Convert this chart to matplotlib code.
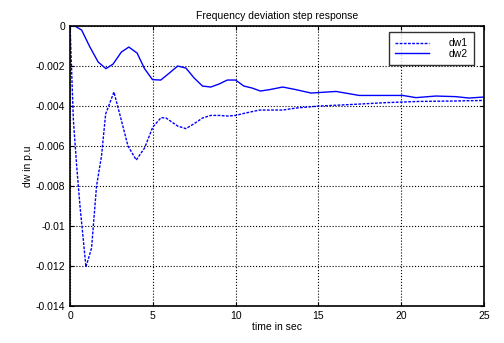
import matplotlib
matplotlib.use("Agg")
import matplotlib.pyplot as plt

t1 = [0, 0.2, 0.4, 0.6, 0.96, 1.3, 1.6, 1.9, 2.15, 2.65, 3.0, 3.5, 4.0, 4.5, 5.0, 5.5,
      5.8, 6.5, 7.0, 7.5, 8.0, 8.5, 9.0, 9.55, 10.0, 10.6, 11.45, 12.05, 12.85, 13.65,
      15.06, 17.07, 19.08, 21.08, 23.1, 25.0]
dw1 = [0, -0.0047, -0.0070, -0.0090, -0.01205, -0.0111, -0.0080, -0.0065, -0.0044, -0.0033,
       -0.0044, -0.0060, -0.0067, -0.0061, -0.00505, -0.00458, -0.0046, -0.0050, -0.00513,
       -0.00488, -0.0046, -0.00447, -0.00447, -0.0045, -0.00447, -0.00435, -0.0042, -0.0042,
       -0.0042, -0.0041, -0.0040, -0.00392, -0.00383, -0.00377, -0.00375, -0.00372]

t2 = [0, 0.3, 0.7, 1.2, 1.7, 2.17, 2.6, 3.1, 3.55, 4.05, 4.5, 4.98, 5.48, 6.0, 6.5, 7.0,
      7.5, 8.0, 8.5, 9.0, 9.5, 10.0, 10.5, 11.0, 11.5, 12.05, 12.85, 13.65, 14.56, 16.07,
      17.47, 18.67, 20.1, 20.9, 22.1, 23.3, 24.1, 25.0]
dw2 = [0, 0, -0.0002, -0.00105, -0.0018, -0.00213, -0.0019, -0.0013, -0.00105, -0.00135,
       -0.00213, -0.00268, -0.0027, -0.00235, -0.0020, -0.0021, -0.0026, -0.0030, -0.00305,
       -0.0029, -0.0027, -0.0027, -0.0030, -0.0031, -0.00325, -0.00318, -0.00305, -0.00318,
       -0.00335, -0.00327, -0.00347, -0.00347, -0.00347, -0.00358, -0.0035, -0.00353,
       -0.0036, -0.00355]

xticks = [0, 5, 10, 15, 20, 25]
yticks = [0, -0.002, -0.004, -0.006, -0.008, -0.01, -0.012, -0.014]
ytick_labels = ["0", "-0.002", "-0.004", "-0.006", "-0.008", "-0.01", "-0.012", "-0.014"]

plt.rcParams['font.family'] = ['Liberation Sans', 'DejaVu Sans']
fig = plt.figure(figsize=(5.04, 3.43), dpi=100)
ax = fig.add_axes([0.139, 0.108, 0.821, 0.816])
ax.plot(t1, dw1, color='#0000ff', linestyle=(0, (2, 1)), linewidth=1.0, label='dw1')
ax.plot(t2, dw2, color='#0000ff', linestyle='-', linewidth=1.0, label='dw2')
ax.set_xlim(0, 25)
ax.set_ylim(-0.014, 0)
ax.set_xticks(xticks)
ax.set_yticks(yticks)
ax.set_yticklabels(ytick_labels)
ax.grid(True, color='black', linestyle=':', linewidth=0.8)
ax.tick_params(direction='in', top=True, right=True, labelsize=7.5, length=3)
for s in ax.spines.values():
    s.set_linewidth(1.2)
ax.set_title("Frequency deviation step response", fontsize=7.5, pad=5)
ax.set_xlabel("time in sec", fontsize=7.5, labelpad=1)
ax.set_ylabel("dw in p.u", fontsize=7.5, labelpad=2)
leg = ax.legend(loc='upper right', bbox_to_anchor=(0.976, 0.979), borderaxespad=0,
                fontsize=7.5, frameon=True, fancybox=False, edgecolor='black',
                handlelength=3.2, handletextpad=1.9, labelspacing=0.05,
                borderpad=0.6)
leg.get_frame().set_linewidth(1.0)
fig.savefig("out.png", dpi=100)
